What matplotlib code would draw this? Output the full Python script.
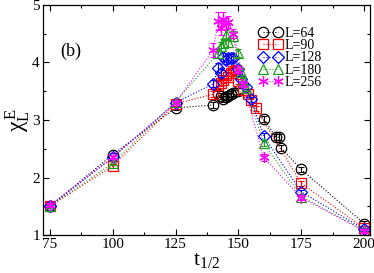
import matplotlib
matplotlib.use("Agg")
import matplotlib.pyplot as plt
from matplotlib.ticker import MultipleLocator

plt.rcParams.update({
    "font.family": ["Liberation Serif", "DejaVu Serif"],
    "mathtext.fontset": "stix",
    "xtick.direction": "in",
    "ytick.direction": "in",
    "xtick.top": True,
    "ytick.right": True,
})

# ── data ─────────────────────────────────────────────────────────────────────
x64 = [75, 100, 125, 140, 142, 143, 144, 145, 146, 147, 148, 150, 160, 165, 166, 167, 175, 200]
y64 = [1.50, 2.40, 3.21, 3.26, 3.45, 3.42, 3.37, 3.40, 3.42, 3.45, 3.47, 3.50, 3.02, 2.70, 2.70, 2.51, 2.14, 1.20]
e64 = [0.03, 0.03, 0.03, 0.05, 0.05, 0.05, 0.05, 0.05, 0.05, 0.05, 0.05, 0.05, 0.05, 0.05, 0.05, 0.05, 0.04, 0.04]

x90 = [75, 100, 125, 140, 142, 143, 144, 145, 146, 147, 148, 149, 150, 152, 154, 155, 157, 175, 200]
y90 = [1.50, 2.20, 3.28, 3.45, 3.61, 3.65, 3.70, 3.78, 3.75, 3.82, 3.86, 3.87, 3.67, 3.52, 3.46, 3.35, 3.20, 1.90, 1.12]
e90 = [0.03, 0.03, 0.03, 0.05, 0.06, 0.06, 0.06, 0.06, 0.06, 0.06, 0.06, 0.06, 0.05, 0.05, 0.05, 0.04, 0.04, 0.04, 0.03]

x128 = [75, 100, 125, 140, 142, 143, 144, 145, 146, 147, 148, 150, 151, 153, 155, 160, 175, 200]
y128 = [1.50, 2.35, 3.30, 3.63, 3.91, 3.82, 4.10, 4.05, 4.08, 4.08, 4.08, 3.88, 3.72, 3.58, 3.36, 2.72, 1.75, 1.10]
e128 = [0.03, 0.03, 0.03, 0.06, 0.08, 0.07, 0.07, 0.07, 0.07, 0.07, 0.07, 0.06, 0.05, 0.05, 0.04, 0.06, 0.04, 0.03]

x180 = [75, 100, 125, 142, 143, 144, 145, 146, 148, 150, 151, 152, 153, 160, 175, 200]
y180 = [1.50, 2.25, 3.32, 4.16, 4.28, 4.33, 4.48, 4.35, 4.46, 4.16, 3.84, 3.68, 3.55, 2.60, 1.67, 1.08]
e180 = [0.03, 0.03, 0.03, 0.08, 0.08, 0.08, 0.09, 0.08, 0.08, 0.07, 0.06, 0.05, 0.05, 0.06, 0.04, 0.03]

x256 = [75, 100, 125, 140, 142, 143, 144, 145, 146, 148, 150, 152, 160, 175, 200]
y256 = [1.52, 2.35, 3.30, 4.22, 4.72, 4.60, 4.75, 4.68, 4.70, 4.50, 3.87, 3.62, 2.35, 1.65, 1.07]
e256 = [0.03, 0.03, 0.03, 0.12, 0.15, 0.12, 0.12, 0.10, 0.10, 0.08, 0.06, 0.05, 0.06, 0.04, 0.03]

asterisk = (6, 2, 0)
series = [
    ("L=64", x64, y64, e64, "black", "o", 7.5),
    ("L=90", x90, y90, e90, "red", "s", 6.5),
    ("L=128", x128, y128, e128, "blue", "D", 6.0),
    ("L=180", x180, y180, e180, "#1fa01f", "^", 7.0),
    ("L=256", x256, y256, e256, "magenta", asterisk, 7.5),
]

fig = plt.figure(figsize=(3.74, 2.73), dpi=100)
ax = fig.add_axes([0.114, 0.139, 0.875, 0.843])

for label, xs, ys, es, col, mk, ms in series:
    ax.errorbar(xs, ys, yerr=es, fmt="none", ecolor=col, elinewidth=0.8,
                capsize=2.2, capthick=0.8)
    ax.plot(xs, ys, linestyle=":", linewidth=0.8, color=col, marker=mk,
            markersize=ms, markerfacecolor="none", markeredgecolor=col,
            markeredgewidth=0.9, label=label)

ax.set_xlim(72.1, 202.3)
ax.set_ylim(1, 5)
ax.xaxis.set_major_locator(MultipleLocator(25))
ax.xaxis.set_minor_locator(MultipleLocator(12.5))
ax.yaxis.set_major_locator(MultipleLocator(1))
ax.yaxis.set_minor_locator(MultipleLocator(0.5))
ax.tick_params(which="major", length=4, width=0.8, labelsize=11, pad=2)
ax.tick_params(which="minor", length=2, width=0.8)
for s in ax.spines.values():
    s.set_linewidth(0.9)

ax.set_xlabel(r"$\mathregular{t_{1/2}}$", fontsize=16, labelpad=0)
ax.set_ylabel(r"$\mathregular{\chi_L^{\,E}}$", fontsize=17, labelpad=0)
ax.text(0.053, 0.80, "(b)", transform=ax.transAxes, fontsize=13, va="center")

ax.legend(loc="upper left", frameon=False, numpoints=2, fontsize=10,
          handlelength=1.7, handletextpad=0.12, labelspacing=-0.05,
          borderaxespad=0, borderpad=0, bbox_to_anchor=(0.661, 0.905))

fig.savefig("out.png", dpi=100)
